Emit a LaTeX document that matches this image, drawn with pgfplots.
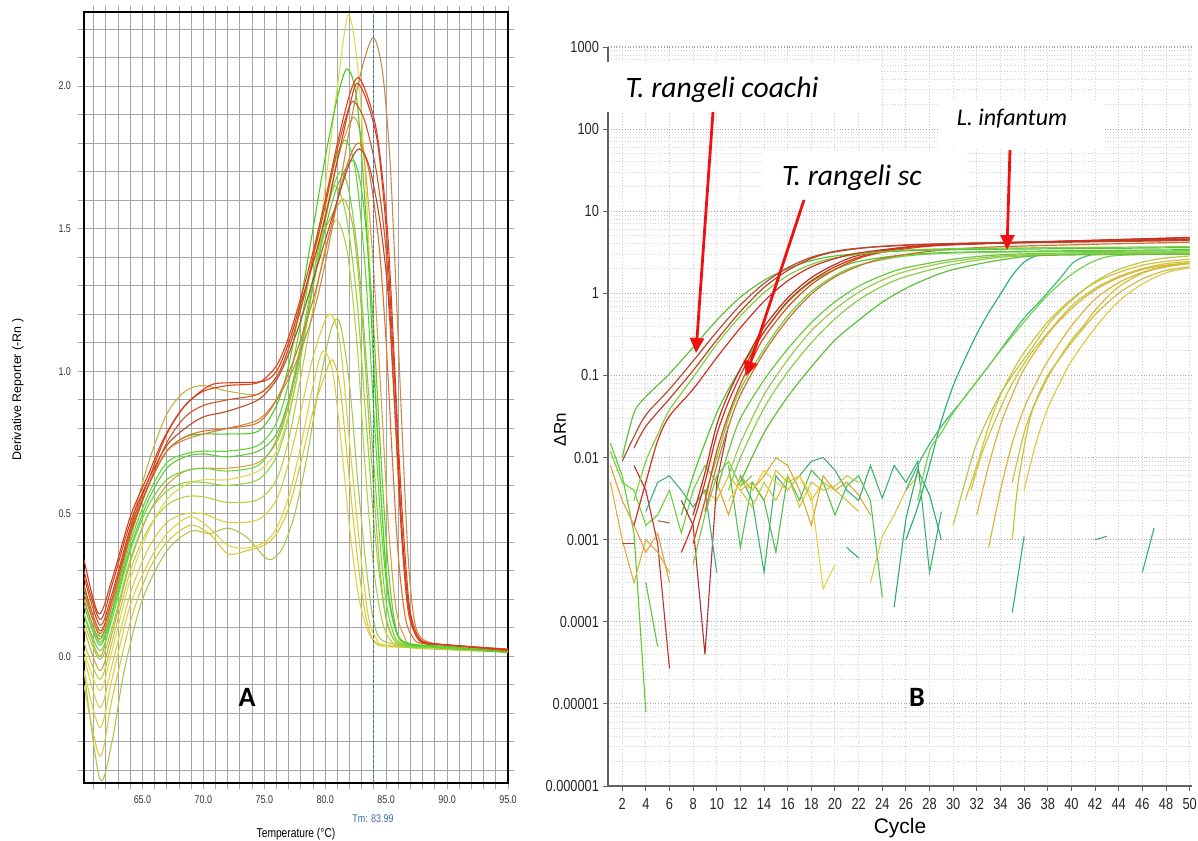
\documentclass[border=0pt]{standalone}
\usepackage{pgfplots}
\pgfplotsset{compat=1.18}
\usepackage{fontspec}
\setmainfont{Liberation Sans}
\newfontfamily\narrow[FakeStretch=0.8]{Liberation Sans}
\newfontfamily\carlito{Carlito}
\usetikzlibrary{arrows.meta}

% melt curve colours
\definecolor{rA}{RGB}{216,58,28}
\definecolor{rB}{RGB}{224,64,26}
\definecolor{rC}{RGB}{216,80,32}
\definecolor{rD}{RGB}{184,74,40}
\definecolor{tanA}{RGB}{200,138,80}
\definecolor{oA}{RGB}{224,112,40}
\definecolor{oB}{RGB}{224,160,64}
\definecolor{gA}{RGB}{72,208,32}
\definecolor{gB}{RGB}{92,216,48}
\definecolor{gC}{RGB}{112,216,56}
\definecolor{gD}{RGB}{138,216,64}
\definecolor{gE}{RGB}{96,200,64}
\definecolor{ygA}{RGB}{184,208,64}
\definecolor{ygB}{RGB}{168,200,80}
\definecolor{yA}{RGB}{216,208,64}
\definecolor{yB}{RGB}{224,208,72}
\definecolor{yC}{RGB}{216,200,56}
\definecolor{yD}{RGB}{224,216,80}
\definecolor{yR}{RGB}{200,176,64}
\definecolor{gridA}{RGB}{165,165,165}
\definecolor{tmblue}{RGB}{60,110,180}
\definecolor{arrowred}{RGB}{240,16,16}

\begin{document}
\begin{tikzpicture}
\path[use as bounding box] (0,0) rectangle (599bp,420.5bp);

%---------------- panel A: melt curves ----------------
\begin{axis}[
  at={(42bp,29bp)}, anchor=south west,
  scale only axis, width=212bp, height=385.5bp,
  xmin=60.2, xmax=95, ymin=-0.444, ymax=2.26,
  xtick={65,70,...,95}, minor xtick={61,62,...,94},
  ytick={0,0.5,1,1.5,2}, minor ytick={-0.4,-0.3,...,2.25},
  grid=both,
  major grid style={gridA, line width=0.5bp},
  minor grid style={gridA, line width=0.5bp},
  axis line style={black, line width=0.8bp},
  tick align=outside, major tick length=3bp, minor tick length=3bp,
  tick style={gridA, line width=0.5bp},
  ticklabel style={font=\narrow\fontsize{5.6bp}{6bp}\selectfont, text=black!80},
  /pgf/number format/assume math mode=true,
  xticklabel style={/pgf/number format/.cd, fixed, fixed zerofill, precision=1},
  yticklabel style={/pgf/number format/.cd, fixed, fixed zerofill, precision=1},
  xlabel={Temperature (°C)},
  ylabel={Derivative Reporter (-Rn )},
  xlabel style={font=\narrow\fontsize{6.4bp}{7bp}\selectfont, at={(axis description cs:0.5,0)}, anchor=center, yshift=-25.5bp},
  ylabel style={font=\fontsize{6.2bp}{7bp}\selectfont, at={(axis description cs:-0.156,0.51)}, anchor=center},
  mc/.style={line width=0.55bp, smooth, tension=0.5, no markers},
]
% yellows
\addplot[mc, ygB] coordinates {(60.2,-0.05)(61.5,-0.43)(62.5,-0.3)(63.5,-0.05)(65,0.2)(67,0.37)(69,0.44)(70.5,0.43)(72,0.45)(73.5,0.42)(75,0.35)(75.6,0.34)(76.5,0.38)(77.5,0.5)(78.5,0.7)(79.5,0.95)(80.5,1.15)(81.2,1.17)(82,0.95)(82.7,0.6)(83.4,0.3)(84,0.12)(85,0.05)(90,0.03)(95,0.015)};
\addplot[mc, yC] coordinates {(60.2,-0.1)(61.5,-0.35)(62.5,-0.15)(64,0.12)(65.5,0.3)(67,0.4)(68.9,0.46)(70.5,0.43)(72,0.36)(73.5,0.37)(75,0.39)(76,0.43)(77,0.52)(78,0.68)(79,0.86)(80,0.99)(80.6,1.04)(81.2,0.95)(81.8,0.7)(82.5,0.4)(83.2,0.17)(83.9,0.06)(85,0.035)(90,0.03)(95,0.015)};
\addplot[mc, yB] coordinates {(60.2,-0.05)(61.5,-0.25)(62.5,-0.08)(64,0.18)(65.5,0.33)(67,0.43)(68.9,0.49)(70.5,0.45)(72,0.39)(73.5,0.38)(75,0.4)(76,0.45)(77,0.56)(78,0.74)(79,0.95)(79.8,1.07)(80.6,1.0)(81.3,0.75)(82,0.45)(82.7,0.22)(83.4,0.1)(84,0.055)(85,0.035)(90,0.03)(95,0.015)};
\addplot[mc, yA] coordinates {(60.2,0.0)(61.5,-0.18)(62.5,-0.03)(64,0.22)(65.5,0.38)(67,0.47)(68.5,0.5)(70,0.5)(72,0.47)(74.5,0.48)(76,0.55)(77,0.68)(78,0.86)(79,1.05)(80.3,1.2)(81.2,1.1)(82,0.75)(82.8,0.4)(83.5,0.15)(84.2,0.06)(85,0.04)(90,0.03)(95,0.015)};
\addplot[mc, ygA] coordinates {(60.2,0.05)(61.5,-0.08)(62.5,0.05)(64,0.3)(65.5,0.45)(67,0.53)(68.5,0.56)(70,0.56)(72,0.54)(74.5,0.55)(76,0.62)(77,0.76)(78,0.98)(79,1.22)(80,1.43)(80.9,1.53)(81.8,1.42)(82.6,1.1)(83.3,0.65)(84,0.3)(84.7,0.12)(85.5,0.05)(87,0.03)(95,0.015)};
\addplot[mc, yD] coordinates {(60.2,0.02)(61.5,-0.12)(62.5,0.02)(64,0.27)(65.5,0.44)(67,0.55)(68.5,0.6)(70,0.62)(72,0.62)(74.5,0.65)(76,0.72)(77,0.85)(78,1.05)(79,1.32)(80,1.65)(81,2.0)(81.9,2.25)(82.7,2.05)(83.4,1.6)(84,1.05)(84.6,0.55)(85.2,0.22)(85.9,0.08)(87,0.04)(95,0.015)};
\addplot[mc, yR] coordinates {(60.2,0.15)(61.5,0.0)(62.5,0.15)(64,0.45)(65.5,0.68)(67,0.85)(68.5,0.93)(70,0.95)(72,0.93)(74.5,0.92)(76,0.98)(77,1.08)(78,1.22)(79,1.38)(80,1.5)(81,1.58)(81.6,1.6)(82.3,1.5)(83,1.2)(83.7,0.75)(84.4,0.35)(85,0.13)(85.8,0.05)(87,0.035)(95,0.015)};
\addplot[mc, oB] coordinates {(60.2,0.1)(61.5,-0.05)(62.5,0.08)(64,0.33)(65.5,0.5)(67,0.6)(68.5,0.65)(70,0.66)(72,0.66)(74.5,0.68)(76,0.75)(77,0.88)(78,1.07)(79,1.3)(80,1.53)(81,1.74)(82.3,1.89)(83.1,1.78)(83.9,1.4)(84.6,0.9)(85.2,0.45)(85.8,0.17)(86.5,0.07)(87.5,0.04)(95,0.02)};
% greens
\addplot[mc, gD] coordinates {(60.2,0.12)(61.5,-0.01)(62.5,0.1)(64,0.34)(65.5,0.5)(67,0.58)(68.5,0.61)(70,0.61)(72,0.6)(74.5,0.62)(76,0.7)(77,0.84)(78,1.05)(79,1.3)(80,1.53)(80.8,1.65)(81.7,1.55)(82.6,1.25)(83.4,0.8)(84.1,0.42)(84.8,0.18)(85.5,0.07)(86.5,0.035)(90,0.03)(95,0.015)};
\addplot[mc, gC] coordinates {(60.2,0.15)(61.5,0.02)(62.5,0.13)(64,0.37)(65.5,0.53)(67,0.62)(68.5,0.65)(70,0.66)(72,0.65)(74.5,0.67)(76,0.76)(77,0.9)(78,1.1)(79,1.33)(80,1.55)(81.2,1.7)(82,1.62)(82.8,1.35)(83.6,0.9)(84.3,0.5)(84.9,0.22)(85.6,0.08)(86.5,0.04)(90,0.03)(95,0.015)};
\addplot[mc, gE] coordinates {(60.2,0.18)(61.5,0.04)(62.5,0.15)(64,0.38)(65.5,0.55)(67,0.66)(68.5,0.7)(70,0.71)(72,0.7)(74.5,0.72)(76,0.78)(77,0.9)(78,1.08)(79,1.3)(80,1.5)(81,1.65)(82.3,1.74)(83.1,1.6)(83.9,1.2)(84.5,0.75)(85.1,0.35)(85.7,0.12)(86.5,0.05)(90,0.03)(95,0.015)};
\addplot[mc, gB] coordinates {(60.2,0.2)(61.5,0.05)(62.5,0.16)(64,0.4)(65.5,0.57)(67,0.68)(68.5,0.71)(70,0.72)(72,0.72)(74.5,0.74)(76,0.82)(77,0.96)(78,1.17)(79,1.4)(80,1.6)(81,1.76)(81.7,1.81)(82.5,1.7)(83.3,1.35)(84,0.85)(84.6,0.45)(85.2,0.2)(86,0.07)(87,0.04)(90,0.03)(95,0.015)};
\addplot[mc, gA] coordinates {(60.2,0.24)(61.5,0.07)(62.5,0.18)(64,0.42)(65.5,0.6)(67,0.72)(68.5,0.77)(70,0.78)(72,0.78)(74.5,0.79)(76,0.88)(77,1.02)(78,1.25)(79,1.5)(80,1.75)(81,1.96)(81.8,2.06)(82.6,1.95)(83.4,1.5)(84,1.0)(84.6,0.55)(85.1,0.25)(85.8,0.09)(86.8,0.045)(90,0.035)(95,0.015)};
% oranges and reds
\addplot[mc, tanA] coordinates {(60.2,0.2)(61.5,0.06)(62.5,0.18)(64,0.42)(65.5,0.6)(67,0.72)(68.5,0.76)(70,0.78)(72,0.8)(74.5,0.83)(76,0.9)(77.5,1.02)(79,1.2)(80,1.38)(81,1.6)(82,1.85)(83,2.06)(83.95,2.17)(84.7,2.05)(85.3,1.75)(85.8,1.3)(86.3,0.8)(86.8,0.35)(87.3,0.13)(88,0.06)(90,0.04)(95,0.025)};
\addplot[mc, oA] coordinates {(60.2,0.22)(61.5,0.08)(62.5,0.2)(64,0.44)(65.5,0.6)(67,0.72)(68.5,0.77)(70,0.79)(72,0.8)(74.5,0.82)(76,0.9)(77.5,1.05)(79,1.25)(80,1.42)(81,1.6)(82,1.75)(82.8,1.8)(83.6,1.7)(84.4,1.45)(85,1.1)(85.5,0.7)(86,0.35)(86.6,0.13)(87.3,0.06)(88,0.045)(90,0.04)(95,0.02)};
\addplot[mc, rD] coordinates {(60.2,0.3)(61.5,0.13)(62.5,0.25)(64,0.47)(65.5,0.62)(67,0.74)(68.5,0.8)(70,0.84)(72,0.86)(74.5,0.9)(76,0.97)(77,1.06)(78,1.18)(79,1.32)(80,1.46)(81,1.6)(82,1.73)(82.8,1.78)(83.6,1.72)(84.4,1.55)(85.1,1.3)(85.6,0.95)(86,0.65)(86.4,0.38)(86.9,0.15)(87.5,0.07)(88.2,0.045)(90,0.04)(95,0.025)};
\addplot[mc, rC] coordinates {(60.2,0.25)(61.5,0.09)(62.5,0.2)(64,0.43)(65.5,0.6)(67,0.75)(68.5,0.84)(70,0.88)(72,0.9)(74.5,0.92)(76,0.98)(77,1.08)(78,1.22)(79,1.4)(80,1.58)(81,1.78)(82,1.93)(82.5,1.94)(83.3,1.87)(84.2,1.7)(85,1.42)(85.5,1.05)(85.9,0.7)(86.3,0.4)(86.8,0.16)(87.5,0.07)(88.2,0.045)(90,0.04)(95,0.02)};
\addplot[mc, rB] coordinates {(60.2,0.28)(61.5,0.11)(62.5,0.22)(64,0.45)(65.5,0.62)(67,0.78)(68.5,0.88)(70,0.93)(72,0.95)(74.5,0.96)(76,1.02)(77,1.12)(78,1.26)(79,1.42)(80,1.6)(81,1.8)(82,1.97)(82.7,2.03)(83.5,1.96)(84.3,1.82)(85.1,1.5)(85.6,1.1)(86,0.75)(86.4,0.45)(86.9,0.18)(87.5,0.08)(88.2,0.05)(90,0.04)(95,0.022)};
\addplot[mc, rA] coordinates {(60.2,0.34)(61.4,0.15)(62.5,0.27)(64,0.49)(65.5,0.64)(66.7,0.76)(68.1,0.86)(69.5,0.92)(70.8,0.955)(72.5,0.96)(74.9,0.965)(76,1.0)(77,1.1)(78,1.24)(79,1.38)(80,1.54)(81,1.74)(82,1.93)(82.6,2.01)(83.4,1.95)(84.3,1.8)(85,1.5)(85.5,1.12)(85.9,0.8)(86.2,0.5)(86.7,0.22)(87.3,0.09)(88,0.05)(90,0.04)(95,0.025)};
% Tm marker
\draw[tmblue, line width=0.4bp, dash pattern=on 1.5bp off 1bp] (axis cs:83.99,-0.444) -- (axis cs:83.99,2.26);
\end{axis}

%---------------- panel B: amplification plot ----------------
\begin{axis}[
  at={(304bp,27.5bp)}, anchor=south west,
  scale only axis, width=292bp, height=369.5bp,
  ymode=log, xmin=0.8, xmax=50.2, ymin=1e-6, ymax=1000,
  xtick={2,4,...,50},
  ytick={1e-6,1e-5,1e-4,1e-3,1e-2,1e-1,1,10,100,1000},
  yticklabels={0.000001,0.00001,0.0001,0.001,0.01,0.1,1,10,100,1000},
  minor ytick={2e-6,3e-6,4e-6,5e-6,6e-6,7e-6,8e-6,9e-6,2e-5,3e-5,4e-5,5e-5,6e-5,7e-5,8e-5,9e-5,2e-4,3e-4,4e-4,5e-4,6e-4,7e-4,8e-4,9e-4,2e-3,3e-3,4e-3,5e-3,6e-3,7e-3,8e-3,9e-3,0.02,0.03,0.04,0.05,0.06,0.07,0.08,0.09,0.2,0.3,0.4,0.5,0.6,0.7,0.8,0.9,2,3,4,5,6,7,8,9,20,30,40,50,60,70,80,90,200,300,400,500,600,700,800,900},
  xmajorgrids, ymajorgrids, yminorgrids,
  major x grid style={gray!35, densely dotted, line width=0.5bp},
  major y grid style={gray!70, densely dotted, line width=0.6bp},
  minor y grid style={gray!35, densely dotted, line width=0.45bp},
  axis x line*=bottom, axis y line*=left,
  axis line style={-, gray!75!black, line width=0.6bp},
  tick align=outside, major tick length=2.5bp, minor tick length=0bp,
  tick style={gray!75!black, line width=0.5bp},
  ticklabel style={font=\narrow\fontsize{8bp}{8.5bp}\selectfont, text=black!85},
  yticklabel style={xshift=1.5bp},
  /pgf/number format/assume math mode=true,
  xlabel={Cycle}, ylabel={ΔRn},
  xlabel style={font=\fontsize{10.5bp}{11bp}\selectfont, at={(axis description cs:0.5,0)}, anchor=center, yshift=-21bp},
  ylabel style={font=\fontsize{8.5bp}{9bp}\selectfont, at={(axis description cs:-0.082,0.482)}, anchor=center},
  nz/.style={line width=0.55bp, no markers},
  am/.style={line width=0.6bp, smooth, tension=0.5, no markers},
]
% baseline noise
\addplot[nz, color={rgb,255:red,224;green,192;blue,48}] coordinates {(9,0.004)(10,0.003)(11,0.006)(12,0.004)(13,0.005)(14,0.003)(15,0.007)(16,0.005)(17,0.006)(18,0.003)(19,0.005)(20,0.004)(21,0.003)(22,0.0022)};
\addplot[nz, color={rgb,255:red,216;green,168;blue,48}] coordinates {(10,0.005)(11,0.002)(12,0.006)(13,0.004)(14,0.006)(15,0.01)(16,0.008)(17,0.004)(18,0.0015)(19,0.006)(20,0.004)(21,0.005)(22,0.0035)(23,0.002)};
\addplot[nz, color={rgb,255:red,64;green,176;blue,112}] coordinates {(12,0.006)(13,0.003)(14,0.0004)(15,0.006)(16,0.004)(17,0.006)(18,0.009)(19,0.01)(20,0.007)(21,0.004)(22,0.003)(23,0.008)(24,0.0032)(25,0.008)(26,0.005)(27,0.009)(28,0.0004)(29,0.0022)};
\addplot[nz, color={rgb,255:red,80;green,192;blue,80}] coordinates {(11,0.008)(12,0.0008)(13,0.005)(14,0.003)(15,0.0007)(16,0.006)(17,0.003)(18,0.007)(19,0.005)(20,0.002)(21,0.0045)(22,0.006)(23,0.003)(24,0.0002)};
\addplot[nz, color={rgb,255:red,232;green,208;blue,64}] coordinates {(11,0.003)(12,0.005)(13,0.004)(14,0.007)(15,0.005)(16,0.004)(17,0.006)(18,0.0035)(19,0.00025)(20,0.0005)};
\addplot[nz, color={rgb,255:red,200;green,200;blue,64}] coordinates {(12,0.004)(13,0.0025)(14,0.005)(15,0.003)(16,0.006)(17,0.0025)(18,0.005)(19,0.004)(20,0.0045)(21,0.006)(22,0.005)};
\addplot[nz, color={rgb,255:red,96;green,200;blue,48}] coordinates {(1,0.015)(2,0.006)(3,0.0012)(4,0.000008)};
\addplot[nz, color={rgb,255:red,112;green,208;blue,56}] coordinates {(1,0.012)(2,0.005)(3,0.004)(4,0.0015)(5,0.002)(6,0.004)(7,0.0012)(8,0.004)(9,0.008)(10,0.005)};
\addplot[nz, color={rgb,255:red,192;green,48;blue,40}] coordinates {(3,0.008)(4,0.004)(5,0.0009)(6,0.000027)};
\addplot[nz, color={rgb,255:red,176;green,48;blue,48}] coordinates {(7,0.003)(8,0.0015)(9,0.00004)(10,0.005)(11,0.025)};
\addplot[nz, color={rgb,255:red,216;green,176;blue,64}] coordinates {(1,0.005)(2,0.001)(3,0.0003)(4,0.001)(5,0.0007)(6,0.0004)};
\addplot[nz, color={rgb,255:red,224;green,160;blue,64}] coordinates {(1,0.008)(2,0.003)(3,0.0015)(4,0.0007)(5,0.0012)(6,0.0003)};
\addplot[nz, color={rgb,255:red,96;green,192;blue,64}] coordinates {(4,0.0003)(5,0.00005)};
\addplot[nz, color={rgb,255:red,64;green,176;blue,128}] coordinates {(4,0.0022)(5,0.005)(6,0.006)(7,0.004)(8,0.0025)(9,0.004)(10,0.0004)};
\addplot[nz, color={rgb,255:red,120;green,200;blue,72}] coordinates {(8,0.0005)(9,0.002)(10,0.006)(11,0.009)(12,0.0045)(13,0.006)};
\addplot[nz, color={rgb,255:red,216;green,200;blue,72}] coordinates {(23,0.0003)(24,0.0011)(25,0.002)(26,0.004)(27,0.006)};
\addplot[nz, color={rgb,255:red,48;green,168;blue,112}] coordinates {(25,0.00015)(26,0.0018)(27,0.007)(28,0.0035)(29,0.001)};
\addplot[nz, color={rgb,255:red,48;green,176;blue,112}] coordinates {(35,0.00013)(36,0.0011)};
\addplot[nz, color={rgb,255:red,48;green,176;blue,112}] coordinates {(42,0.001)(43,0.0011)};
\addplot[nz, color={rgb,255:red,48;green,176;blue,112}] coordinates {(46,0.0004)(47,0.0014)};
\addplot[nz, color={rgb,255:red,48;green,176;blue,112}] coordinates {(21,0.0008)(22,0.0006)};
\addplot[nz, color={rgb,255:red,176;green,96;blue,64}] coordinates {(5,0.0017)(6,0.0016)};
\addplot[nz, color={rgb,255:red,192;green,64;blue,48}] coordinates {(2,0.0009)(3,0.0009)};
% late yellows
\addplot[am, color={rgb,255:red,216;green,192;blue,64}] coordinates {(31,0.003)(32,0.008)(33,0.024)(34,0.058)(35,0.11)(36,0.19)(38,0.45)(40,0.85)(42,1.35)(44,1.8)(46,2.2)(48,2.45)(50,2.6)};
\addplot[am, color={rgb,255:red,200;green,200;blue,56}] coordinates {(31.5,0.004)(32.5,0.012)(34,0.04)(35,0.08)(36.5,0.18)(38,0.33)(40,0.7)(42,1.15)(44,1.6)(46,2.0)(48,2.3)(50,2.45)};
\addplot[am, color={rgb,255:red,224;green,176;blue,64}] coordinates {(32,0.002)(33,0.008)(34,0.025)(35,0.058)(36,0.12)(38,0.32)(40,0.65)(42,1.1)(44,1.55)(46,1.95)(48,2.2)(50,2.35)};
\addplot[am, color={rgb,255:red,184;green,200;blue,72}] coordinates {(30,0.0015)(31,0.005)(32,0.015)(33.7,0.05)(35,0.1)(36.5,0.2)(38.5,0.5)(41.3,1.18)(43.6,1.85)(46,2.4)(48,2.7)(50,2.85)};
\addplot[am, color={rgb,255:red,208;green,192;blue,48}] coordinates {(35,0.001)(35.5,0.005)(36.5,0.03)(37.5,0.068)(38.5,0.125)(40,0.27)(41,0.4)(42,0.62)(43.6,1.08)(45,1.48)(46.4,1.85)(48,2.1)(50,2.3)};
\addplot[am, color={rgb,255:red,200;green,192;blue,64}] coordinates {(35,0.005)(36,0.02)(37,0.05)(38,0.1)(39,0.16)(40,0.25)(42,0.55)(44,1.0)(46,1.5)(48,1.9)(50,2.1)};
\addplot[am, color={rgb,255:red,224;green,200;blue,72}] coordinates {(36,0.004)(37,0.015)(38,0.04)(39,0.08)(40,0.15)(42,0.38)(44,0.8)(46,1.3)(48,1.78)(50,2.05)};
\addplot[am, color={rgb,255:red,216;green,184;blue,56}] coordinates {(33,0.0008)(34,0.004)(35,0.015)(36,0.04)(37,0.08)(38,0.15)(40,0.4)(42,0.85)(44,1.35)(46,1.8)(48,2.15)(50,2.35)};
% teal and late greens
\addplot[am, color={rgb,255:red,48;green,176;blue,128}] coordinates {(26,0.001)(27,0.0025)(28,0.008)(29,0.028)(30,0.075)(31,0.16)(32,0.32)(33,0.58)(34,0.98)(35,1.65)(36,2.4)(37,2.85)(38,3.0)(50,3.05)};
\addplot[am, color={rgb,255:red,64;green,192;blue,112}] coordinates {(26,0.004)(27.5,0.011)(29,0.024)(31,0.055)(33,0.13)(34.6,0.27)(36,0.5)(37.4,0.82)(39,1.5)(40.2,2.4)(41.5,2.9)(43,3.05)(50,3.1)};
\addplot[am, color={rgb,255:red,120;green,208;blue,80}] coordinates {(27,0.003)(28,0.012)(29,0.02)(30,0.035)(32,0.085)(34,0.2)(36,0.45)(38,0.95)(40,1.7)(42,2.5)(44,2.9)(50,3.05)};
% mid greens
\addplot[am, color={rgb,255:red,104;green,200;blue,64}] coordinates {(10,0.004)(11,0.012)(12,0.03)(14,0.088)(16,0.21)(18,0.44)(20,0.79)(22,1.22)(24,1.65)(26,2.05)(30,2.6)(34,2.95)(40,3.1)(50,3.2)};
\addplot[am, color={rgb,255:red,136;green,208;blue,72}] coordinates {(11,0.004)(12,0.01)(14,0.04)(16,0.11)(18,0.25)(20,0.49)(22,0.83)(24,1.22)(26,1.6)(30,2.25)(34,2.75)(40,3.0)(50,3.1)};
\addplot[am, color={rgb,255:red,92;green,192;blue,56}] coordinates {(12,0.005)(14,0.02)(16,0.055)(18,0.127)(20,0.27)(22,0.47)(24,0.78)(26,1.15)(28,1.55)(30,1.95)(34,2.55)(38,2.9)(50,3.0)};
\addplot[am, color={rgb,255:red,160;green,200;blue,80}] coordinates {(11,0.006)(12,0.015)(14,0.058)(16,0.155)(18,0.35)(20,0.64)(22,1.03)(24,1.45)(26,1.85)(30,2.45)(36,2.95)(50,3.15)};
% T. rangeli sc group
\addplot[am, color={rgb,255:red,80;green,200;blue,48}] coordinates {(7,0.002)(8,0.006)(9,0.015)(10,0.035)(11,0.068)(12,0.12)(14,0.34)(16,0.78)(18,1.38)(20,1.95)(22,2.45)(26,2.95)(32,3.2)(50,3.4)};
\addplot[am, color={rgb,255:red,112;green,208;blue,64}] coordinates {(9,0.0035)(10,0.01)(11,0.03)(12,0.068)(14,0.21)(16,0.53)(18,1.05)(20,1.65)(22,2.2)(26,2.85)(32,3.15)(50,3.3)};
\addplot[am, color={rgb,255:red,208;green,112;blue,48}] coordinates {(9,0.0022)(10,0.008)(11,0.024)(12,0.058)(14,0.19)(16,0.48)(18,0.98)(20,1.58)(22,2.15)(24,2.65)(28,3.25)(34,3.7)(50,4.2)};
\addplot[am, color={rgb,255:red,224;green,72;blue,24}] coordinates {(8,0.0009)(9,0.003)(10,0.012)(11,0.034)(12,0.078)(13,0.155)(14,0.29)(16,0.68)(18,1.28)(20,1.95)(22,2.65)(24,3.15)(28,3.75)(34,4.1)(50,4.5)};
\addplot[am, color={rgb,255:red,184;green,48;blue,32}] coordinates {(8,0.002)(9,0.0065)(10,0.025)(11,0.06)(12,0.12)(13,0.22)(14,0.39)(16,0.88)(18,1.55)(20,2.25)(22,2.9)(26,3.65)(32,4.0)(50,4.8)};
\addplot[am, color={rgb,255:red,208;green,48;blue,24}] coordinates {(7,0.0007)(8,0.0016)(9,0.005)(10,0.019)(11,0.048)(12,0.1)(13,0.19)(14,0.34)(16,0.8)(18,1.42)(20,2.1)(22,2.75)(24,3.25)(27,3.75)(30,4.0)(40,4.35)(50,4.75)};
% T. rangeli coachi group
\addplot[am, color={rgb,255:red,128;green,208;blue,64}] coordinates {(3,0.003)(4,0.009)(5,0.019)(6,0.038)(8,0.095)(10,0.24)(12,0.53)(14,1.02)(16,1.65)(18,2.25)(20,2.7)(24,3.2)(30,3.5)(50,3.7)};
\addplot[am, color={rgb,255:red,96;green,192;blue,64}] coordinates {(2,0.01)(3,0.035)(4,0.055)(6,0.105)(8,0.22)(10,0.47)(12,0.9)(14,1.44)(16,2.0)(18,2.5)(20,2.85)(24,3.2)(30,3.4)(40,3.5)(50,3.6)};
\addplot[am, color={rgb,255:red,176;green,80;blue,48}] coordinates {(2,0.009)(3,0.018)(4,0.033)(6,0.068)(8,0.15)(10,0.34)(12,0.72)(14,1.32)(16,2.05)(18,2.75)(20,3.25)(22,3.55)(26,3.85)(30,4.0)(40,4.2)(50,4.4)};
\addplot[am, color={rgb,255:red,192;green,64;blue,40}] coordinates {(3,0.013)(4,0.024)(6,0.052)(8,0.115)(10,0.27)(12,0.6)(14,1.18)(16,1.9)(18,2.65)(20,3.2)(24,3.75)(30,4.05)(40,4.3)(50,4.6)};
\addplot[am, color={rgb,255:red,208;green,48;blue,32}] coordinates {(3,0.0015)(4,0.005)(5,0.016)(6,0.032)(8,0.068)(10,0.165)(12,0.38)(14,0.8)(16,1.42)(18,2.1)(20,2.65)(22,3.1)(26,3.65)(30,3.95)(40,4.3)(50,4.5)};
\end{axis}

%---------------- annotations (pixel frame of the reference) ----------------
\begin{scope}[x=0.5bp, y=-0.5bp, shift={(0bp,420.5bp)}]
  \node[font=\narrow\fontsize{5.6bp}{6bp}\selectfont, text=tmblue] at (373,819) {Tm: 83.99};
  \node[font=\carlito\bfseries\fontsize{14bp}{14bp}\selectfont] at (247,697) {A};
  \node[font=\carlito\bfseries\fontsize{14bp}{14bp}\selectfont] at (917,697) {B};
  \fill[white] (560,62) rectangle (880,112);
  \fill[white] (939,102) rectangle (1105,148);
  \fill[white] (764,150) rectangle (964,200);
  \node[font=\carlito\itshape\fontsize{14.8bp}{15bp}\selectfont] at (722,90) {T. rangeli coachi};
  \node[font=\carlito\itshape\fontsize{14.8bp}{15bp}\selectfont] at (852,178) {T. rangeli sc};
  \node[font=\carlito\itshape\fontsize{12bp}{12bp}\selectfont] at (1012,119) {L. infantum};
  \draw[arrowred, line width=1.4bp, -{Triangle[length=7.5bp, width=7bp]}] (713,112) -- (696,353);
  \draw[arrowred, line width=1.4bp, -{Triangle[length=7.5bp, width=7bp]}] (804,200) -- (746,376);
  \draw[arrowred, line width=1.4bp, -{Triangle[length=7.5bp, width=7bp]}] (1010,150) -- (1007,250);
\end{scope}
\end{tikzpicture}
\end{document}
